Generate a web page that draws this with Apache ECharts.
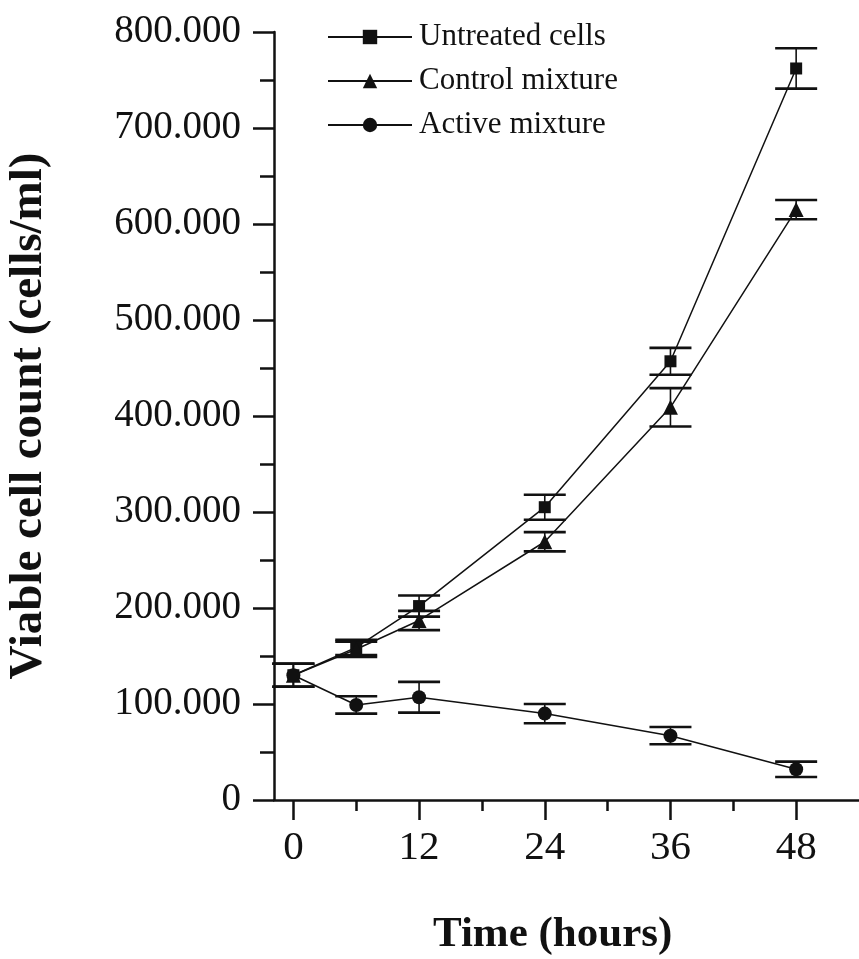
<!DOCTYPE html>
<html>
<head>
<meta charset="utf-8">
<script src="https://cdn.jsdelivr.net/npm/echarts@6/dist/echarts.min.js"></script>
<style>
html,body{margin:0;padding:0;background:#fff;}
#chart{width:859px;height:959px;}
</style>
</head>
<body>
<div id="chart"></div>
<script>
// ---- data ----
const hours = [0, 6, 12, 24, 36, 48];
const untreated = [130000, 159000, 202000, 305000, 457000, 762000];
const untreatedErr = [12000, 8000, 11000, 13000, 14000, 21000];
const control = [130000, 157000, 187000, 269000, 409000, 615000];
const controlErr = [12000, 8000, 10000, 10000, 20000, 10000];
const active = [130000, 99000, 107000, 90000, 67000, 32000];
const activeErr = [12000, 9000, 16000, 10000, 9000, 8000];
const xMajorTicks = [0, 12, 24, 36, 48];
const xMinorTicks = [6, 18, 30, 42];
const yTickLabels = ['0', '100.000', '200.000', '300.000', '400.000', '500.000', '600.000', '700.000', '800.000'];
const seriesNames = ['Untreated cells', 'Control mixture', 'Active mixture'];

const FONT = 'Liberation Serif';

function pairs(ys) { return hours.map((h, i) => [h, ys[i]]); }
function errData(ys, es) { return hours.map((h, i) => [h, ys[i] - es[i], ys[i] + es[i]]); }

function errorSeries(ys, es) {
  return {
    type: 'custom',
    xAxisIndex: 0, yAxisIndex: 0,
    silent: true,
    z: 5,
    clip: false,
    data: errData(ys, es),
    renderItem: function (params, api) {
      const x = api.value(0);
      const lo = api.coord([x, api.value(1)]);
      const hi = api.coord([x, api.value(2)]);
      const hw = 21;
      return {
        type: 'group',
        children: [
          { type: 'line', shape: { x1: lo[0], y1: lo[1], x2: hi[0], y2: hi[1] }, style: { stroke: '#111', lineWidth: 1.6 } },
          { type: 'line', shape: { x1: lo[0] - hw, y1: lo[1], x2: lo[0] + hw, y2: lo[1] }, style: { stroke: '#111', lineWidth: 2.6 } },
          { type: 'line', shape: { x1: hi[0] - hw, y1: hi[1], x2: hi[0] + hw, y2: hi[1] }, style: { stroke: '#111', lineWidth: 2.6 } }
        ]
      };
    }
  };
}

function lineSeries(name, ys, symbol, size) {
  return {
    name: name,
    type: 'line',
    xAxisIndex: 0, yAxisIndex: 0,
    data: pairs(ys),
    symbol: symbol,
    symbolSize: size,
    showAllSymbol: true,
    clip: false,
    lineStyle: { color: '#111', width: 1.5 },
    itemStyle: { color: '#111' },
    z: 6,
    animation: false
  };
}

const chart = echarts.init(document.getElementById('chart'), null, { renderer: 'canvas' });
chart.setOption({
  animation: false,
  backgroundColor: '#fff',
  title: {
    text: 'Time (hours)',
    left: 433, top: 913,
    padding: 0,
    textStyle: { fontFamily: FONT, fontWeight: 'bold', fontSize: 43, color: '#111' }
  },
  legend: {
    data: seriesNames,
    orient: 'vertical',
    left: 327, top: 21,
    padding: 0,
    itemWidth: 84, itemHeight: 18,
    itemGap: 12,
    textStyle: { fontFamily: FONT, fontSize: 31, lineHeight: 32, color: '#111', padding: [0, 0, 0, 2] }
  },
  grid: { left: 274, right: 0, top: 32, bottom: 159, containLabel: false, outerBoundsMode: 'none' },
  xAxis: [
    {
      type: 'value', min: -1.85, max: 54,
      axisLine: { show: true, onZero: false, lineStyle: { color: '#111', width: 2.5 } },
      axisTick: { show: true, customValues: xMajorTicks, length: 20, lineStyle: { color: '#111', width: 2.5 } },
      axisLabel: { show: true, customValues: xMajorTicks, margin: 28, fontFamily: FONT, fontSize: 41, color: '#111' },
      splitLine: { show: false }
    },
    {
      type: 'value', min: -1.85, max: 54, position: 'bottom',
      axisLine: { show: false, onZero: false },
      axisTick: { show: true, customValues: xMinorTicks, length: 11, lineStyle: { color: '#111', width: 2.5 } },
      axisLabel: { show: false },
      splitLine: { show: false }
    }
  ],
  yAxis: {
    type: 'value', min: 0, max: 800000, interval: 100000,
    name: 'Viable cell count (cells/ml)',
    nameLocation: 'middle', nameGap: 222, nameRotate: 90,
    nameTextStyle: { fontFamily: FONT, fontWeight: 'bold', fontSize: 47, color: '#111' },
    axisLine: { show: true, onZero: false, lineStyle: { color: '#111', width: 2.5 } },
    axisTick: { show: true, length: 21, lineStyle: { color: '#111', width: 2.5 } },
    minorTick: { show: true, splitNumber: 2, length: 14, lineStyle: { color: '#111', width: 2.5 } },
    axisLabel: {
      margin: 33, fontFamily: FONT, fontSize: 39, color: '#111',
      formatter: function (v) { return yTickLabels[Math.round(v / 100000)]; }
    },
    splitLine: { show: false }
  },
  series: [
    lineSeries(seriesNames[0], untreated, 'rect', 12),
    lineSeries(seriesNames[1], control, 'triangle', 15),
    lineSeries(seriesNames[2], active, 'circle', 14),
    errorSeries(untreated, untreatedErr),
    errorSeries(control, controlErr),
    errorSeries(active, activeErr)
  ]
});
</script>
</body>
</html>
